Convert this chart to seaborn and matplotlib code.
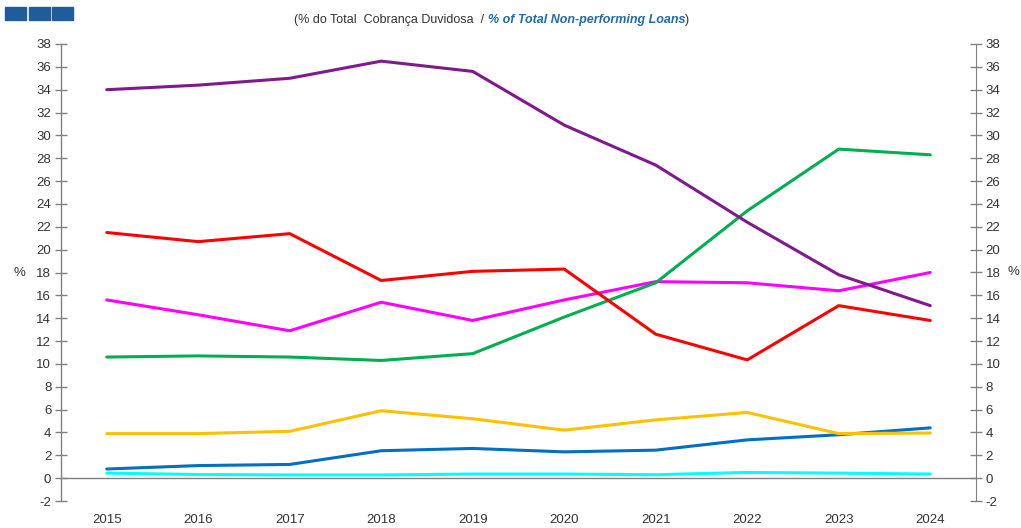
import matplotlib
matplotlib.use("Agg")
import matplotlib.pyplot as plt
from matplotlib.patches import Rectangle
from matplotlib.ticker import MultipleLocator, FixedLocator
import pandas as pd
import seaborn as sns

# dados (% do total de cobrança duvidosa)
anos = [2015, 2016, 2017, 2018, 2019, 2020, 2021, 2022, 2023, 2024]
serie_roxa = [34.0, 34.4, 35.0, 36.5, 35.6, 30.9, 27.4, 22.4, 17.8, 15.1]
serie_verde = [10.6, 10.7, 10.6, 10.3, 10.9, 14.1, 17.1, 23.4, 28.8, 28.3]
serie_vermelha = [21.5, 20.7, 21.4, 17.3, 18.1, 18.3, 12.6, 10.35, 15.1, 13.8]
serie_magenta = [15.6, 14.3, 12.9, 15.4, 13.8, 15.6, 17.2, 17.1, 16.4, 18.0]
serie_amarela = [3.9, 3.9, 4.1, 5.9, 5.2, 4.2, 5.1, 5.75, 3.9, 3.95]
serie_azul = [0.8, 1.1, 1.2, 2.4, 2.6, 2.3, 2.45, 3.35, 3.8, 4.4]
serie_ciano = [0.44, 0.32, 0.28, 0.28, 0.36, 0.36, 0.3, 0.5, 0.44, 0.36]

series = {
    "Série 1": serie_roxa,
    "Série 2": serie_verde,
    "Série 3": serie_vermelha,
    "Série 4": serie_magenta,
    "Série 5": serie_amarela,
    "Série 6": serie_azul,
    "Série 7": serie_ciano,
}
cores = {
    "Série 1": "#7F1A8C",
    "Série 2": "#00B050",
    "Série 3": "#FF0000",
    "Série 4": "#FF00FF",
    "Série 5": "#FFC000",
    "Série 6": "#0070C0",
    "Série 7": "#00FFFF",
}

linhas = []
for nome, valores in series.items():
    for ano, v in zip(anos, valores):
        linhas.append({"ano": ano, "valor": v, "serie": nome})
df = pd.DataFrame(linhas)

sns.set_style("white")
plt.rcParams["font.family"] = ["Liberation Sans", "DejaVu Sans"]
plt.rcParams["axes.unicode_minus"] = False

cinza = "#808080"
texto = "#333333"

fig = plt.figure(figsize=(10.21, 5.28), dpi=100)
ax = fig.add_axes([61 / 1021, 1 - 501 / 528, 915 / 1021, 457 / 528])

# ciano por baixo, depois as restantes
ordem = ["Série 7", "Série 6", "Série 5", "Série 4", "Série 2", "Série 3", "Série 1"]
sns.lineplot(data=df, x="ano", y="valor", hue="serie", hue_order=ordem,
             palette=cores, linewidth=2.2, legend=False, ax=ax)

ax.set_xlim(anos[0] - 0.5, anos[-1] + 0.5)
ax.set_ylim(-2, 38)
ax.yaxis.set_major_locator(MultipleLocator(2))
ax.set_xticks(anos)
ax.set_xticklabels([str(a) for a in anos])
ax.xaxis.set_minor_locator(FixedLocator([a - 0.5 for a in anos] + [anos[-1] + 0.5]))

ax.spines["top"].set_visible(False)
ax.spines["bottom"].set_position(("data", 0))
for s in ["left", "right", "bottom"]:
    ax.spines[s].set_color(cinza)
    ax.spines[s].set_linewidth(1.0)

ax.tick_params(axis="y", direction="inout", length=8, width=1, color=cinza,
               labelsize=9.5, labelcolor=texto, pad=3)
ax.tick_params(axis="x", which="major", length=0, pad=26, labelsize=9.5, labelcolor=texto)
ax.tick_params(axis="x", which="minor", direction="out", length=5, width=1, color=cinza)
ax.set_xlabel("")
ax.set_ylabel("%", rotation=0, fontsize=9.5, color=texto, labelpad=12, va="center")

ax2 = ax.twinx()
ax2.set_ylim(-2, 38)
ax2.yaxis.set_major_locator(MultipleLocator(2))
for s in ["left", "top", "bottom"]:
    ax2.spines[s].set_visible(False)
ax2.spines["right"].set_color(cinza)
ax2.tick_params(axis="y", direction="inout", length=8, width=1, color=cinza,
                labelsize=9.5, labelcolor=texto, pad=3)
ax2.set_ylabel("%", rotation=0, fontsize=9.5, color=texto, labelpad=9, va="center")
ax.spines["right"].set_visible(False)

# quadrados azuis no canto
for i in range(3):
    fig.patches.append(Rectangle(((5 + i * 23.5) / 1021, 1 - 20 / 528), 21 / 1021, 13 / 528,
                                 transform=fig.transFigure, color="#1F5C99"))

# subtítulo em duas cores
t1 = fig.text(294 / 1021, 1 - 23 / 528, "(% do Total  Cobrança Duvidosa  / ",
              fontsize=9, color=texto, ha="left", va="baseline")
t2 = ax.annotate("% of Total Non-performing Loans", xy=(1, 0), xycoords=t1,
                 fontsize=9, color="#1F6BB0", fontweight="bold", fontstyle="italic",
                 ha="left", va="bottom", annotation_clip=False)
ax.annotate(")", xy=(1, 0), xycoords=t2, fontsize=9, color=texto,
            ha="left", va="bottom", annotation_clip=False)

fig.savefig("out.png", dpi=100)
